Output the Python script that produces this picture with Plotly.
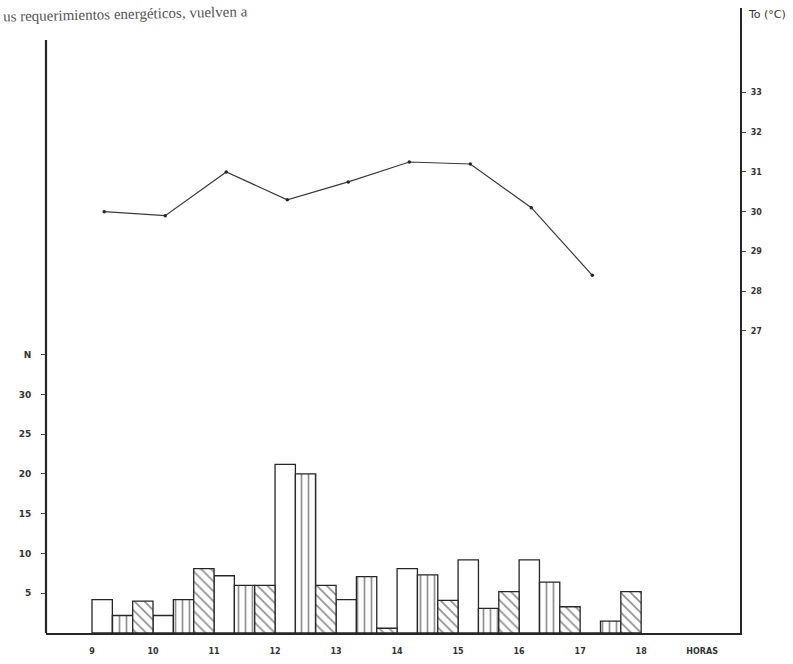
import plotly.graph_objects as go

# Hourly counts (three categories per hour) and air temperature
hours = [9, 10, 11, 12, 13, 14, 15, 16, 17]
open_counts = [4.2, 2.2, 7.2, 21.2, 4.2, 8.1, 9.2, 9.2, 0.0]
vertical_counts = [2.2, 4.2, 6.0, 20.0, 7.1, 7.3, 3.1, 6.4, 1.5]
diagonal_counts = [4.0, 8.1, 6.0, 6.0, 0.6, 4.1, 5.2, 3.3, 5.2]

temp_hours = [9, 10, 11, 12, 13, 14, 15, 16, 17]
temperature = [30.0, 29.9, 31.0, 30.3, 30.75, 31.25, 31.2, 30.1, 28.4]

hour_ticks = [9, 10, 11, 12, 13, 14, 15, 16, 17, 18, 19]
hour_tick_text = ["9", "10", "11", "12", "13", "14", "15", "16", "17", "18", "HORAS"]
count_ticks = [5, 10, 15, 20, 25, 30, 35]
count_tick_text = ["5", "10", "15", "20", "25", "30", "N"]
temp_ticks = [27, 28, 29, 30, 31, 32, 33]

INK = "#262626"
BAR_W = 1 / 3

fig = go.Figure()

series = [
    (1 / 6, open_counts, ""),
    (1 / 2, vertical_counts, "|"),
    (5 / 6, diagonal_counts, "\\"),
]
for offset, values, shape in series:
    fig.add_bar(
        x=[h + offset for h in hours],
        y=values,
        width=BAR_W,
        marker=dict(
            color="white",
            line=dict(color=INK, width=1.3),
            pattern=dict(shape=shape, fgcolor=INK, bgcolor="white",
                         size=7, solidity=0.25),
        ),
        yaxis="y",
        hoverinfo="x+y",
    )

fig.add_scatter(
    x=[h + 0.2 for h in temp_hours],
    y=temperature,
    mode="lines+markers",
    line=dict(color="#3a3a3a", width=1.2),
    marker=dict(size=3.5, color=INK),
    yaxis="y2",
)

tick_font = dict(family="DejaVu Sans", size=8, color="#333", weight="bold")

fig.update_layout(
    width=793,
    height=664,
    margin=dict(l=46, r=53, t=8, b=27),
    paper_bgcolor="white",
    plot_bgcolor="white",
    showlegend=False,
    barmode="overlay",
    xaxis=dict(
        range=[8.246, 19.62],
        tickvals=hour_ticks,
        ticktext=hour_tick_text,
        ticks="",
        showline=True,
        linecolor=INK,
        linewidth=2.2,
        showgrid=False,
        zeroline=False,
        tickfont=tick_font,
        ticklabelstandoff=9,
    ),
    yaxis=dict(
        range=[0, 78.6],
        tickvals=count_ticks,
        ticktext=count_tick_text,
        ticks="outside",
        ticklen=4,
        tickcolor="#444",
        showline=False,
        showgrid=False,
        zeroline=False,
        tickfont=dict(family="DejaVu Sans", size=9, color="#333", weight="bold"),
        ticklabelstandoff=8,
    ),
    yaxis2=dict(
        overlaying="y",
        side="right",
        range=[19.4, 35.125],
        tickvals=temp_ticks,
        ticks="outside",
        ticklen=4,
        tickcolor="#444",
        showline=True,
        linecolor=INK,
        linewidth=2.2,
        showgrid=False,
        zeroline=False,
        tickfont=tick_font,
        ticklabelstandoff=3,
    ),
    shapes=[
        dict(type="line", xref="paper", yref="paper",
             x0=0, x1=0, y0=0, y1=0.949,
             line=dict(color=INK, width=2.2)),
    ],
    annotations=[
        dict(text="To (°C)", xref="paper", yref="paper", x=1, y=0.989,
             xanchor="left", yanchor="middle", xshift=6, showarrow=False,
             font=dict(family="DejaVu Sans", size=11, color="#333")),
        dict(text="us requerimientos energéticos, vuelven a",
             xref="paper", yref="paper", x=0, y=1.0, xshift=-45,
             xanchor="left", yanchor="top", yshift=7, showarrow=False,
             textangle=-1.2,
             font=dict(family="Liberation Serif", size=15, color="#555")),
    ],
)

fig.write_html("out.html")
